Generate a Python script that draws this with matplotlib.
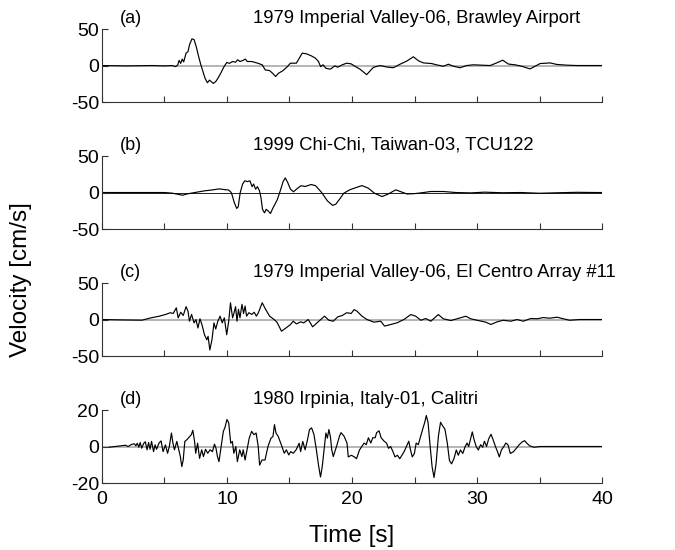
import matplotlib
matplotlib.use("Agg")
import matplotlib.pyplot as plt

plt.rcParams['font.family'] = ['Liberation Sans', 'DejaVu Sans']

# ---------------- data ----------------
t_a = [0, 2, 4, 5.0, 5.6, 5.9, 6.07, 6.17, 6.3, 6.42, 6.54, 6.73, 6.88, 7.01, 7.2, 7.37,
       7.54, 7.73, 7.91, 8.08, 8.25, 8.44, 8.6, 8.74, 8.91, 9.1, 9.27, 9.5, 9.74, 9.98,
       10.2, 10.45, 10.69, 10.85, 11.04, 11.28, 11.47, 11.63, 11.99, 12.46, 12.82, 13.06,
       13.41, 13.65, 13.89, 14.12, 14.48, 14.83, 15.07, 15.55, 15.78, 16.02, 16.37, 16.73,
       17.08, 17.32, 17.49, 17.68, 17.91, 18.27, 18.63, 18.86, 19.22, 19.57, 19.93, 20.28,
       20.64, 21.17, 21.71, 22.24, 22.77, 23.31, 23.84, 24.37, 24.91, 25.31, 25.71, 26.37,
       26.77, 27.31, 27.71, 28.11, 28.64, 29.17, 29.71, 30.37, 31.04, 31.57, 32.05, 32.51,
       33.04, 33.57, 34.24, 34.64, 35.04, 35.84, 36.37, 37.17, 38.0, 40.0]
v_a = [0, -0.5, 0, -0.5, 0, -1.5, 1, 7, 3, 8.8, 5, 17, 19, 28.7, 36.6, 35.5,
       26, 12.5, 1, -8.3, -17.6, -23.6, -20, -22, -24.5, -22, -17.6, -10.6, -2.3, 4.2,
       3, 5.5, 4.5, 7.9, 5.5, 7, 8.8, 5.5, 5.5, 3.2, 1, -6,
       -7, -10.6, -15, -10.6, -7, -1.5, 3.2, 3.2, 10, 17, 16, 13.4,
       10, 5.5, -1.5, 1, -3.7, -5, -0.5, -2.3, 1, 3.2, 2.3, -1.5,
       -5, -12.5, -2.5, 0, -2, -3, 1.8, 6, 12, 6.5, 3.6, 2.7,
       0.9, -1, 1.8, -1, -3, 0, 1, 0.5, 0, 3.6, 7.3, 2,
       1, -1, -4.6, -1, 2.7, 3.6, 1.5, 0.5, 0, 0]

t_b = [0, 5.0, 5.6, 6.1, 6.45, 6.8, 7.1, 7.6, 8.2, 8.8, 9.4, 9.8, 10.12, 10.35, 10.59,
       10.78, 10.9, 11.06, 11.25, 11.42, 11.65, 11.84, 12.01, 12.13, 12.29, 12.44, 12.6,
       12.72, 12.84, 13.0, 13.14, 13.31, 13.48, 13.66, 14.02, 14.26, 14.49, 14.66, 14.85,
       15.08, 15.32, 15.56, 15.91, 16.26, 16.74, 17.09, 17.57, 18.04, 18.45, 18.7, 19.0,
       19.34, 19.81, 20.28, 20.8, 21.3, 21.8, 22.4, 22.9, 23.5, 24.0, 24.4, 25.0, 25.5,
       26.3, 27.3, 28.3, 29.5, 30.6, 32.0, 33.5, 35.0, 36.5, 38.0, 39.5, 40.0]
v_b = [0, 0, -0.8, -2.5, -3.7, -2, -1, 0.5, 2.3, 3.5, 5.0, 4.0, 3.5, 0, -14,
       -21.8, -19.5, 0, 11.6, 16, 15, 16, 8, 11.6, 4.6, 8, 2.3,
       -7, -23, -27.8, -23, -25.5, -28.7, -21.8, -10, 2.3, 15, 20, 14,
       4.6, 1, 4.6, 9.3, 8.3, 11, 9.3, 0, -11.6, -17.6, -16, -9.3,
       -1, 3.7, 6.5, 9.5, 6, -1, -5.5, -2, 3.7, 0.5, -2, -1.5, -0.5,
       1.4, 1.4, 0, -0.5, 0.5, -0.3, 0, -1, -0.3, 0.3, 0, 0]

t_c = [0, 1.5, 3.2, 3.93, 4.6, 5.1, 5.47, 5.7, 5.95, 6.1, 6.3, 6.5, 6.73, 6.88, 7.0,
       7.17, 7.37, 7.52, 7.68, 7.84, 8.0, 8.2, 8.39, 8.49, 8.63, 8.8, 8.96, 9.1, 9.27,
       9.45, 9.62, 9.79, 9.98, 10.14, 10.28, 10.45, 10.57, 10.69, 10.8, 10.92, 11.04,
       11.2, 11.33, 11.45, 11.57, 11.75, 11.99, 12.18, 12.35, 12.51, 12.82, 13.06, 13.41,
       13.77, 14.0, 14.36, 14.72, 15.07, 15.3, 15.55, 15.9, 16.14, 16.5, 16.85, 17.2,
       17.8, 18.15, 18.5, 18.86, 19.22, 19.57, 19.93, 20.17, 20.4, 20.8, 21.2, 21.75,
       22.3, 22.6, 23.1, 23.6, 24.15, 24.7, 25.1, 25.5, 25.9, 26.3, 26.9, 27.3, 27.9,
       28.4, 29.1, 29.5, 30.0, 30.7, 31.1, 31.6, 32.1, 32.7, 33.2, 33.7, 34.3, 34.8,
       35.3, 35.8, 36.4, 36.9, 37.4, 38.2, 40.0]
v_c = [0, -0.5, -0.9, 2.3, 4.6, 7, 9.3, 8.3, 16, 2.3, 10, 5.5, 17.6, 11.6, -2.3,
       7, -4.6, 0, -11.6, 1, -7, -20.8, -27.8, -23, -41.7, -27.8, -4.6, -13, -2.3,
       4.6, -4.6, 2.3, -20.8, -2.3, 23, 2.3, 9.3, 17.6, -2.3, 14, 2.3,
       20.8, 8.3, 18.5, 4.6, 9.3, 7, 10, 4.6, 9.3, 23, 14.8, 4.6,
       0, -3.7, -16, -11.6, -7, -2.3, -6, -3.2, -4.6, 0, -10, -4.6,
       4.6, -1, -2.3, 3.7, 5.5, 9.3, 8.3, 13.6, 11.4, 4.5, 0, -3.6,
       -2.3, -9, -6.8, -4.5, 0, 6.8, 4.5, -1, 1.4, -2.3, 6.8, 1, -1.4,
       1, 4.5, 1, -1, -3.6, -6.8, -3.2, -1, -2.3, 0, -2.3, 1.4, 1,
       2.7, 1.8, 3.2, 1, -1, 0, 0]

t_d = [0.57, 1.05, 1.52, 1.88, 2.1, 2.35, 2.6, 2.71, 2.83, 2.95, 3.06, 3.18, 3.35, 3.47,
       3.61, 3.73, 3.85, 3.97, 4.13, 4.25, 4.37, 4.56, 4.73, 4.89, 5.08, 5.25, 5.39, 5.56,
       5.68, 5.8, 5.99, 6.15, 6.27, 6.39, 6.5, 6.63, 6.79, 6.98, 7.15, 7.27, 7.41, 7.5,
       7.65, 7.81, 7.98, 8.12, 8.29, 8.46, 8.65, 8.84, 9.0, 9.12, 9.24, 9.36, 9.52, 9.71,
       9.83, 10.0, 10.14, 10.3, 10.43, 10.55, 10.71, 10.83, 11.02, 11.19, 11.3, 11.45,
       11.6, 11.78, 11.97, 12.16, 12.33, 12.5, 12.61, 12.8, 13.04, 13.28, 13.52, 13.68,
       13.8, 13.92, 14.1, 14.35, 14.58, 14.75, 14.94, 15.1, 15.3, 15.53, 15.77, 15.89,
       16.06, 16.25, 16.44, 16.6, 16.77, 16.96, 17.15, 17.32, 17.48, 17.62, 17.79, 17.91,
       18.03, 18.15, 18.27, 18.38, 18.5, 18.76, 19.0, 19.12, 19.36, 19.6, 19.7, 19.95,
       20.19, 20.36, 20.6, 20.78, 20.97, 21.14, 21.31, 21.5, 21.66, 21.85, 21.97, 22.16,
       22.33, 22.57, 22.76, 22.92, 23.09, 23.28, 23.44, 23.63, 23.82, 23.99, 24.16, 24.35,
       24.54, 24.68, 24.82, 24.99, 25.13, 25.3, 25.49, 25.65, 25.82, 25.94, 26.08, 26.25,
       26.41, 26.56, 26.72, 26.91, 27.08, 27.24, 27.43, 27.62, 27.79, 27.96, 28.15, 28.34,
       28.5, 28.67, 28.86, 29.05, 29.2, 29.33, 29.5, 29.62, 29.76, 29.93, 30.1, 30.29,
       30.45, 30.59, 30.76, 30.93, 31.12, 31.28, 31.47, 31.64, 31.78, 31.95, 32.14, 32.3,
       32.47, 32.66, 32.9, 33.14, 33.37, 33.61, 33.8, 33.97, 34.2, 34.56, 35.04, 40.0]
v_d = [-0.4, 0, 0.4, 0.7, 0, 1.1, 1.5, 0.4, 1.8, -0.4, 2.2, -0.9, 1.8, 2.6,
       -1.8, 2.2, -1.5, 2.8, -2.8, 0.9, -1.5, 1.8, 3.1, -2.8, 0.9, -3.7, 0, 7.4,
       1.8, -1.8, 2.8, -1.8, -5.5, -11, -7.4, 2.8, 3.7, 5.2, 6.5, 8.9, 2.8, -3.7,
       1.8, -6.5, -1.8, -5.5, -1.5, -3.7, -1.8, -2.8, 1.3, -0.9, -5.5, -8.3, -0.9, 8.3,
       10.2, 14.8, 13, 1.8, 2.8, -3.7, 0, -8.3, -1.8, -5.5, -1.8, -7.4,
       -1.8, 4.6, 8.3, 6.5, 7.4, 0, -10.2, -7.4, -7.4, 0, 4.6, 5.5,
       12, 7.4, 5.5, 0.9, -3.7, -1.8, -4.6, -2.8, -3.7, -1.8, 1.8, -2.8,
       2.8, -1.8, 3.7, 9.3, 10.2, 6.5, -1.8, -10.2, -16.7, -11, 0, 7.4,
       4.6, 9.3, 5.5, -1.8, -5.5, 0, 5.7, 7.6, 5.7, 1.9, -5.7, -4.8,
       -5.7, -6.7, -1.9, 0, 1.9, 1, 4.8, 1.9, 4.8, 4.8, 7.6, 8.6,
       4.8, 2.9, 1.9, -1, 0, -2.9, -5.7, -4.8, -6.7, -4.8, -2.9, 0,
       2.9, -1.9, -5.7, -3.8, 1.9, 1, 5.7, 9.5, 13.3, 17, 13.3, 0,
       -11.4, -17, -9.5, 5.7, 13.3, 11.4, 9.5, 1.9, -7.6, -9.5, -6.7, -1.9,
       -4.8, -1.9, -3.8, 0, 1.9, 0, 4.8, 8, 3.8, 0, -1.9, 1,
       -0.4, 2.9, 0, 4.2, 6.7, 3.8, 0, -2.9, -5.7, -1.9, 0, 1.9,
       1, -3.8, -2.9, -1, 1, 2.5, 3.2, 1.9, 0.4, -0.4, 0, 0]

panel_tags = ["(a)", "(b)", "(c)", "(d)"]
titles = ["1979 Imperial Valley-06, Brawley Airport",
          "1999 Chi-Chi, Taiwan-03, TCU122",
          "1979 Imperial Valley-06, El Centro Array #11",
          "1980 Irpinia, Italy-01, Calitri"]
y_limits = [50, 50, 50, 20]
x_ticks = [0, 5, 10, 15, 20, 25, 30, 35, 40]
x_ticklabels = ["0", "", "10", "", "20", "", "30", "", "40"]

series = [(t_a, v_a), (t_b, v_b), (t_c, v_c), (t_d, v_d)]
zero_colors = ["#a0a0a0", "#000000", "#a0a0a0", "#a0a0a0"]

# ---------------- figure ----------------
fig = plt.figure(figsize=(6.75, 5.5), dpi=100)
bottoms = [0.8145, 0.5836, 0.3527, 0.1218]
left, width, height = 0.151, 0.741, 0.1327
spine_col = "#333333"

for i, ((t, v), tag, title, lim, b, zc) in enumerate(
        zip(series, panel_tags, titles, y_limits, bottoms, zero_colors)):
    ax = fig.add_axes([left, b, width, height])
    ax.plot([0, 40], [0, 0], color=zc, lw=1.1 if zc != "#000000" else 0.6, zorder=1)
    ax.plot(t, v, color="black", lw=0.85, zorder=2)
    ax.set_xlim(0, 40)
    ax.set_ylim(-lim, lim)
    ax.set_yticks([-lim, 0, lim])
    ax.set_yticklabels([str(-lim), "0", str(lim)])
    ax.set_xticks(x_ticks)
    if i == 3:
        ax.set_xticklabels(x_ticklabels)
    else:
        ax.set_xticklabels([""] * len(x_ticks))
    for s in ["top", "right"]:
        ax.spines[s].set_visible(False)
    for s in ["left", "bottom"]:
        ax.spines[s].set_color(spine_col)
        ax.spines[s].set_linewidth(0.8)
    ax.tick_params(direction="in", length=4, width=0.8, color=spine_col,
                   labelsize=14, pad=2)
    ax.tick_params(axis="x", pad=6)
    ax.text(0.036, 1.15, tag, transform=ax.transAxes, ha="left", va="center",
            fontsize=13)
    ax.text(0.302, 1.15, title, transform=ax.transAxes, ha="left", va="center",
            fontsize=13.3)

fig.text(0.031, 1 - 280 / 550, "Velocity [cm/s]", rotation=90, ha="center",
         va="center", fontsize=17.5)
fig.text(352 / 675, 1 - 536 / 550, "Time [s]", ha="center", va="center",
         fontsize=17.5)

fig.savefig("out.png", dpi=100)
